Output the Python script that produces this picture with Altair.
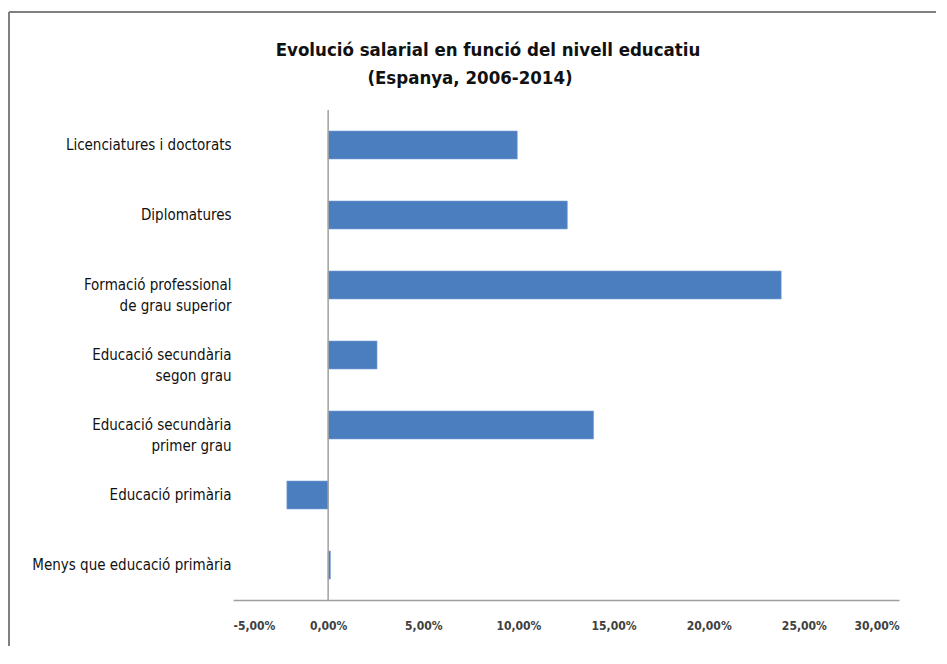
import altair as alt
import pandas as pd

categories = [
    "Licenciatures i doctorats",
    "Diplomatures",
    "Formació professional\nde grau superior",
    "Educació secundària\nsegon grau",
    "Educació secundària\nprimer grau",
    "Educació primària",
    "Menys que educació primària",
]
values = [9.94, 12.57, 23.81, 2.57, 13.95, -2.17, 0.12]
tick_values = [-5, 0, 5, 10, 15, 20, 25, 30]
title_line1 = "Evolució salarial en funció del nivell educatiu"
title_line2 = "(Espanya, 2006-2014)"

df = pd.DataFrame({"cat": categories, "val": values})

FONT = "DejaVu Sans Condensed, sans-serif"
BLUE = "#4a7ebf"
GRAY = "#a0a0a0"

x_scale = alt.Scale(domain=[-5, 30], nice=False, zero=False)
y_scale = alt.Scale(paddingInner=0.6, paddingOuter=0.3)

bars = alt.Chart(df).mark_bar(color=BLUE, stroke="#7da3d6", strokeWidth=0.6).encode(
    x=alt.X(
        "val:Q",
        scale=x_scale,
        axis=alt.Axis(
            values=tick_values,
            title=None,
            grid=False,
            ticks=False,
            tickSize=0,
            labelPadding=20,
            labelExpr="replace(replace(format(datum.value, '.2f'), '.', ','), '\u2212', '-') + '%'",
            labelFont=FONT,
            labelFontSize=12,
            labelFontWeight="bold",
            labelColor="#404040",
            domainColor=GRAY,
            domainWidth=1.5,
        ),
    ),
    y=alt.Y(
        "cat:N",
        sort=None,
        scale=y_scale,
        axis=alt.Axis(
            title=None,
            domain=False,
            ticks=False,
            tickSize=0,
            labelPadding=2,
            labelLimit=300,
            labelExpr="split(datum.label, '\\n')",
            labelFont=FONT,
            labelFontSize=15,
            labelColor="#111111",
            labelLineHeight=21,
        ),
    ),
)

zero_rule = alt.Chart(pd.DataFrame({"z": [0]})).mark_rule(color=GRAY, strokeWidth=1.5).encode(
    x=alt.X("z:Q", scale=x_scale)
)

one = pd.DataFrame({"a": [0]})
frame_left = alt.Chart(one).mark_rule(color="#808080", strokeWidth=2).encode(
    x=alt.value(-224), y=alt.value(-98), y2=alt.value(536)
)
frame_top = alt.Chart(one).mark_rule(color="#808080", strokeWidth=2).encode(
    x=alt.value(-224), x2=alt.value(703), y=alt.value(-98)
)

t1 = alt.Chart(one).mark_text(
    font=FONT, fontSize=18.5, fontWeight="bold", color="#111111", align="center", baseline="middle"
).encode(x=alt.value(255), y=alt.value(-60), text=alt.value(title_line1))
t2 = alt.Chart(one).mark_text(
    font=FONT, fontSize=18.5, fontWeight="bold", color="#111111", align="center", baseline="middle"
).encode(x=alt.value(237), y=alt.value(-32), text=alt.value(title_line2))

chart = (
    alt.layer(bars, zero_rule, frame_left, frame_top, t1, t2)
    .properties(
        width=666,
        height=490,
        padding={"top": 3, "left": 0, "right": 0, "bottom": 0},
    )
    .configure(background="white")
    .configure_view(strokeWidth=0, stroke="transparent")
)

chart.save("out.html", embed_options={"renderer": "svg", "actions": False})
